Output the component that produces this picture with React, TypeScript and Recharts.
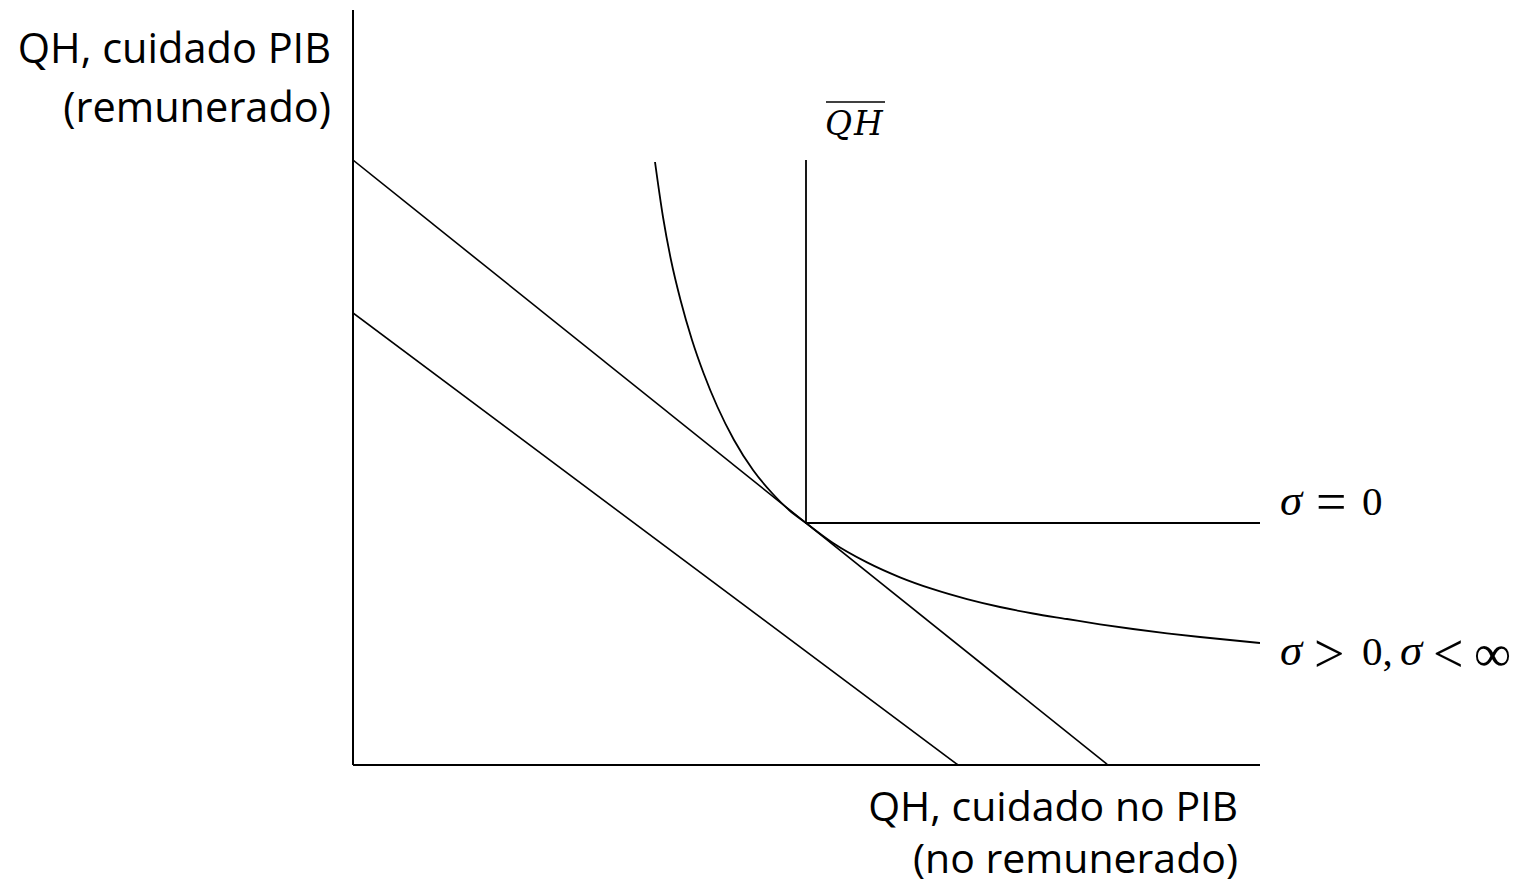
import React from 'react';
import { LineChart, Line, XAxis, YAxis, ReferenceLine } from 'recharts';

// Schematic axes: values (x = care outside GDP, y = paid care in GDP)
const X_MAX = 907;
const Y_MAX = 755;

const budgetHigh = [
  { x: 0, y: 605 },
  { x: 755, y: 0 },
];

const budgetLow = [
  { x: 0, y: 452 },
  { x: 605, y: 0 },
];

// sigma = 0 (Leontief) corner at QH bar
const leontief = [
  { x: 453, y: 605 },
  { x: 453, y: 242 },
  { x: 907, y: 242 },
];

// 0 < sigma < infinity isoquant
const cesCurve = [
  { x: 302, y: 603 },
  { x: 310, y: 548 },
  { x: 318, y: 505 },
  { x: 327.5, y: 465 },
  { x: 339, y: 425 },
  { x: 350.5, y: 392 },
  { x: 364.5, y: 358 },
  { x: 381, y: 325 },
  { x: 400, y: 295 },
  { x: 419, y: 272 },
  { x: 436, y: 255 },
  { x: 453, y: 242 },
  { x: 480, y: 222 },
  { x: 514, y: 202.6 },
  { x: 547, y: 187.7 },
  { x: 580, y: 175.8 },
  { x: 614, y: 165.9 },
  { x: 647, y: 158 },
  { x: 680, y: 151.5 },
  { x: 714, y: 146 },
  { x: 747, y: 140.7 },
  { x: 780, y: 136 },
  { x: 814, y: 131.7 },
  { x: 847, y: 128 },
  { x: 907, y: 122 },
];

const yLabel = ['QH, cuidado PIB', '(remunerado)'];
const xLabel = ['QH, cuidado no PIB', '(no remunerado)'];
const qhBar = 'QH';

const W = 1522;
const H = 885;

const sans = '"Open Sans", "Noto Sans", sans-serif';
const serif = '"DejaVu Serif", "Liberation Serif", serif';
const mathFont = '"Liberation Serif", "DejaVu Serif", serif';

export default function App() {
  return (
    <div style={{ position: 'absolute', left: 0, top: 0, width: W, height: H, background: '#fff' }}>
      <LineChart
        width={W}
        height={H}
        margin={{ top: 10, right: 262, bottom: 120, left: 353 }}
      >
        <XAxis type="number" dataKey="x" domain={[0, X_MAX]} allowDataOverflow hide />
        <YAxis type="number" dataKey="y" domain={[0, Y_MAX]} allowDataOverflow hide />
        <ReferenceLine x={0} stroke="#000" strokeWidth={2} ifOverflow="visible" />
        <ReferenceLine y={0} stroke="#000" strokeWidth={2} ifOverflow="visible" />
        <Line data={budgetHigh} dataKey="y" type="linear" stroke="#000" strokeWidth={1.6} dot={false} activeDot={false} isAnimationActive={false} />
        <Line data={budgetLow} dataKey="y" type="linear" stroke="#000" strokeWidth={1.6} dot={false} activeDot={false} isAnimationActive={false} />
        <Line data={leontief} dataKey="y" type="linear" stroke="#000" strokeWidth={1.8} dot={false} activeDot={false} isAnimationActive={false} />
        <Line data={cesCurve} dataKey="y" type="monotone" stroke="#000" strokeWidth={1.8} dot={false} activeDot={false} isAnimationActive={false} />
      </LineChart>

      <svg width={W} height={H} style={{ position: 'absolute', left: 0, top: 0, pointerEvents: 'none' }}>
        <text x={331} y={63} textAnchor="end" fontFamily={sans} fontSize={41.5} fill="#000">{yLabel[0]}</text>
        <text x={331} y={122} textAnchor="end" fontFamily={sans} fontSize={41.5} fill="#000">{yLabel[1]}</text>

        <text x={1238} y={821} textAnchor="end" fontFamily={sans} fontSize={41} fill="#000">{xLabel[0]}</text>
        <text x={1238} y={873} textAnchor="end" fontFamily={sans} fontSize={41} fill="#000">{xLabel[1]}</text>

        <line x1={826} x2={885} y1={102} y2={102} stroke="#000" strokeWidth={1.6} />
        <text x={825} y={135} fontFamily={serif} fontStyle="italic" fontSize={33} letterSpacing={2} fill="#000">{qhBar}</text>

        <text fontFamily={mathFont} fontSize={41} fill="#000">
          <tspan x={1280} y={515} fontStyle="italic" fontSize={45}>σ</tspan>
          <tspan x={1316} y={520} fontSize={54}>=</tspan>
          <tspan x={1362} y={515}>0</tspan>
        </text>
        <text fontFamily={mathFont} fontSize={41} fill="#000">
          <tspan x={1280} y={665} fontStyle="italic" fontSize={45}>σ</tspan>
          <tspan x={1314} y={672} fontSize={54}>&gt;</tspan>
          <tspan x={1362} y={665}>0,</tspan>
          <tspan x={1400} y={665} fontStyle="italic" fontSize={45}>σ</tspan>
          <tspan x={1433} y={672} fontSize={54}>&lt;</tspan>
          <tspan x={1474} y={671} fontSize={52}>∞</tspan>
        </text>
      </svg>
    </div>
  );
}
